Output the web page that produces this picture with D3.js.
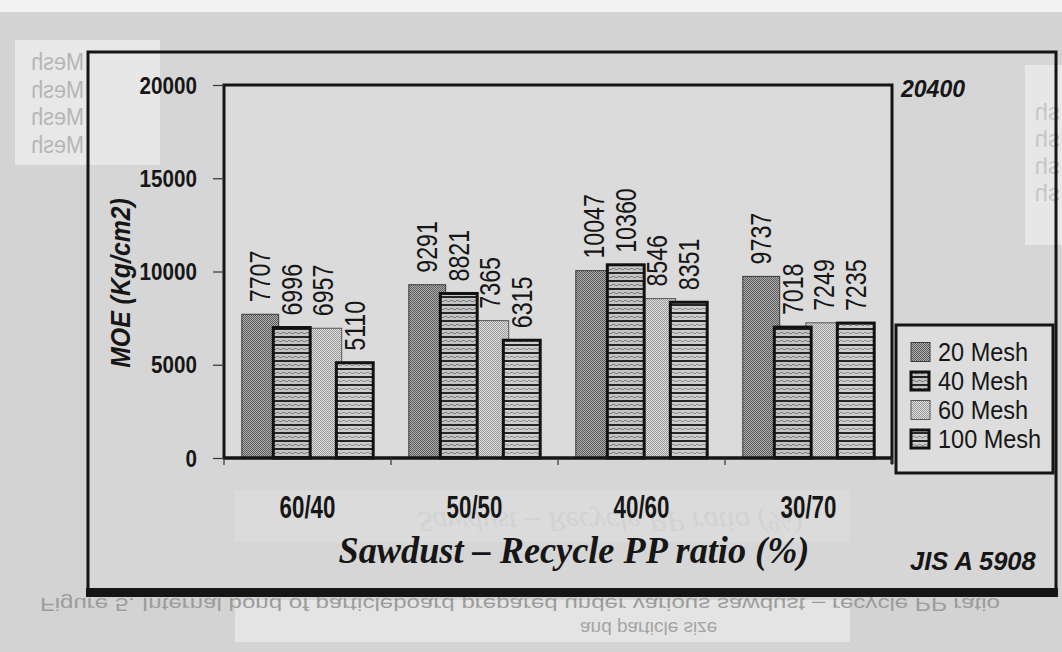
<!DOCTYPE html>
<html><head><meta charset="utf-8">
<script src="https://cdn.jsdelivr.net/npm/d3@7"></script>
<style>
html,body{margin:0;padding:0;background:#d3d3d3;}
svg{display:block;}
text{font-family:"Liberation Sans",Arial,sans-serif;fill:#161616;}
</style></head><body>
<svg id="chart" width="1062" height="652"></svg>
<script>
// ---- data ----
const categories = ["60/40", "50/50", "40/60", "30/70"];
const series = ["20 Mesh", "40 Mesh", "60 Mesh", "100 Mesh"];
const mesh20 = [7707, 9291, 10047, 9737];
const mesh40 = [6996, 8821, 10360, 7018];
const mesh60 = [6957, 7365, 8546, 7249];
const mesh100 = [5110, 6315, 8351, 7235];
const yTicks = [0, 5000, 10000, 15000, 20000];
const yMax = 20000;
const yTitle = "MOE (Kg/cm2)";
const xTitle = "Sawdust – Recycle PP ratio (%)";
const cornerNote = "20400";
const standardNote = "JIS A 5908";
const caption = "Figure 5. Internal bond of particleboard prepared under various sawdust – recycle PP ratio";
const captionTail = "and particle size";

const values = { "20 Mesh": mesh20, "40 Mesh": mesh40, "60 Mesh": mesh60, "100 Mesh": mesh100 };

const svg = d3.select("#chart");
const defs = svg.append("defs");

// ---- fill patterns ----
function checker(id, light, dark) {
  const p = defs.append("pattern").attr("id", id).attr("patternUnits", "userSpaceOnUse")
    .attr("width", 2).attr("height", 2);
  p.append("rect").attr("width", 2).attr("height", 2).attr("fill", light);
  p.append("rect").attr("width", 1).attr("height", 1).attr("fill", dark);
  p.append("rect").attr("x", 1).attr("y", 1).attr("width", 1).attr("height", 1).attr("fill", dark);
}
function stripes(id, base, line, mid) {
  const p = defs.append("pattern").attr("id", id).attr("patternUnits", "userSpaceOnUse")
    .attr("width", 6).attr("height", 8);
  p.append("rect").attr("width", 6).attr("height", 8).attr("fill", base);
  p.append("rect").attr("y", 0).attr("width", 6).attr("height", 2).attr("fill", line);
  p.append("rect").attr("y", 4).attr("width", 3).attr("height", 1).attr("fill", mid);
  p.append("rect").attr("x", 3).attr("y", 5).attr("width", 3).attr("height", 1).attr("fill", mid);
}
checker("pat20", "#b0b0b0", "#5a5a5a");
checker("pat60", "#dedede", "#9a9a9a");
stripes("pat40", "#c4c4c4", "#262626", "#7e7e7e");
stripes("pat100", "#cdcdcd", "#262626", "#8e8e8e");

const style = {
  "20 Mesh": { fill: "url(#pat20)", stroke: "#3a3a3a", sw: 1 },
  "40 Mesh": { fill: "url(#pat40)", stroke: "#111", sw: 3 },
  "60 Mesh": { fill: "url(#pat60)", stroke: "#555", sw: 1 },
  "100 Mesh": { fill: "url(#pat100)", stroke: "#111", sw: 3 }
};

// text helper: condensed glyphs via horizontal scale
function label(g, str, x, y, o = {}) {
  const t = g.append("text")
    .attr("transform", `translate(${x},${y}) rotate(${o.rotate || 0}) scale(${o.sx || 1},${o.sy || 1})`)
    .attr("text-anchor", o.anchor || "start")
    .attr("font-size", o.size || 20)
    .attr("font-weight", o.weight || "normal")
    .attr("font-style", o.italic ? "italic" : "normal")
    .text(str);
  if (o.family) t.style("font-family", o.family);
  if (o.fill) t.style("fill", o.fill);
  if (o.baseline) t.attr("dominant-baseline", o.baseline);
  return t;
}

// ---- faint paper background with show-through from the facing page ----
const bg = svg.append("g");
bg.append("rect").attr("width", 1062).attr("height", 652).attr("fill", "#d3d3d3");
bg.append("rect").attr("width", 1062).attr("height", 12).attr("fill", "#f2f2f2");
bg.append("rect").attr("x", 15).attr("y", 40).attr("width", 145).attr("height", 125).attr("fill", "#e8e8e8");
bg.append("rect").attr("x", 1025).attr("y", 65).attr("width", 37).attr("height", 180).attr("fill", "#e8e8e8");
bg.append("rect").attr("x", 235).attr("y", 600).attr("width", 615).attr("height", 42).attr("fill", "#e4e4e4");
bg.append("rect").attr("x", 235).attr("y", 490).attr("width", 615).attr("height", 52).attr("fill", "#d9d9d9");
[62, 90, 117, 145].forEach(cy => {
  label(bg, "Mesh", 84, cy, { size: 24, sx: -0.9, fill: "#b6b6b6", baseline: "central" });
});
[0, 1, 2, 3].forEach(i => {
  bg.append("text").attr("transform", `translate(1060,${120 + i * 27}) scale(-1,1)`)
    .attr("font-size", 24).style("fill", "#c0c0c0").text("sh");
});
label(bg, xTitle, 610, 512, { anchor: "middle", size: 30, sy: -1, italic: true,
  family: '"Liberation Serif", "Times New Roman", serif', fill: "#cdcdcd" });
bg.append("text").attr("transform", "translate(40,598) scale(1,-1)")
  .attr("font-size", 19).style("fill", "#9c9c9c").text(caption)
  .attr("textLength", 960).attr("lengthAdjust", "spacingAndGlyphs");
bg.append("text").attr("transform", "translate(580,622) scale(1,-1)")
  .attr("font-size", 19).style("fill", "#a4a4a4").text(captionTail);

// ---- chart frame ----
const frame = { left: 88, top: 52, right: 1056, bottom: 590 };
svg.append("rect").attr("x", frame.left).attr("y", frame.top)
  .attr("width", frame.right - frame.left).attr("height", frame.bottom - frame.top)
  .attr("fill", "rgba(230,230,230,0.2)").attr("stroke", "#151515").attr("stroke-width", 3);
svg.append("rect").attr("x", frame.left - 2).attr("y", frame.bottom - 2)
  .attr("width", frame.right - frame.left + 4).attr("height", 9).attr("fill", "#151515");

// ---- scales ----
const plot = { left: 224, right: 892, top: 85, bottom: 458 };
const x0 = d3.scaleBand().domain(categories).range([plot.left, plot.right]);
const x1 = d3.scaleBand().domain(series).range([0, x0.bandwidth()]).paddingOuter(0.65);
const barW = x1.bandwidth() * 1.17;
const y = d3.scaleLinear().domain([0, yMax]).range([plot.bottom, plot.top]);

svg.append("rect").attr("x", plot.left).attr("y", plot.top)
  .attr("width", plot.right - plot.left).attr("height", plot.bottom - plot.top)
  .attr("fill", "rgba(255,255,255,0.12)");

// ---- bars (dotted series first, striped ones overlap them) ----
const drawOrder = ["20 Mesh", "60 Mesh", "40 Mesh", "100 Mesh"];
const bars = svg.append("g");
const barData = [];
drawOrder.forEach(s => {
  categories.forEach((c, i) => {
    barData.push({ s, c, v: values[s][i] });
  });
});
bars.selectAll("rect").data(barData).join("rect")
  .attr("x", d => x0(d.c) + x1(d.s) + x1.bandwidth() / 2 - barW / 2)
  .attr("y", d => y(d.v))
  .attr("width", barW)
  .attr("height", d => y(0) - y(d.v))
  .attr("fill", d => style[d.s].fill)
  .attr("stroke", d => style[d.s].stroke)
  .attr("stroke-width", d => style[d.s].sw);

// ---- value labels ----
const vl = svg.append("g");
barData.forEach(d => {
  const cx = x0(d.c) + x1(d.s) + x1.bandwidth() / 2;
  label(vl, String(d.v), cx, y(d.v) - 12, { rotate: -90, sx: 0.8, size: 29, baseline: "central" });
});

// ---- plot border and axes ----
svg.append("path")
  .attr("d", `M${plot.left},${plot.bottom}V${plot.top}H${plot.right}V${plot.bottom + 6}`)
  .attr("fill", "none").attr("stroke", "#151515").attr("stroke-width", 3);
svg.append("line").attr("x1", plot.left - 1).attr("x2", plot.right + 1)
  .attr("y1", plot.bottom).attr("y2", plot.bottom)
  .attr("stroke", "#151515").attr("stroke-width", 3.5);

const yAxis = svg.append("g").attr("transform", `translate(${plot.left},0)`)
  .call(d3.axisLeft(y).tickValues(yTicks).tickSize(11).tickFormat(d3.format("d")));
yAxis.select(".domain").remove();
yAxis.selectAll(".tick line").attr("stroke", "#333").attr("stroke-width", 1.2);
yAxis.selectAll(".tick text")
  .attr("x", null).attr("dy", null)
  .attr("transform", "translate(-27,0) scale(0.86,1)")
  .attr("dominant-baseline", "central")
  .attr("font-size", 24).attr("font-weight", "bold")
  .style("font-family", '"Liberation Sans", Arial, sans-serif').style("fill", "#161616");

// category boundary ticks
const bounds = categories.map(c => x0(c)).concat([plot.right]);
svg.append("g").selectAll("line").data(bounds).join("line")
  .attr("x1", d => d).attr("x2", d => d)
  .attr("y1", plot.bottom).attr("y2", plot.bottom + 7)
  .attr("stroke", "#333").attr("stroke-width", 1.2);

// category labels
categories.forEach(c => {
  label(svg, c, x0(c) + x0.bandwidth() / 2, 518, { anchor: "middle", size: 31, sx: 0.72, weight: "bold" });
});

// titles
label(svg, yTitle, 130, 283, { rotate: -90, anchor: "middle", size: 27, sx: 0.92, weight: "bold", italic: true });
label(svg, xTitle, 574, 563, { anchor: "middle", size: 37, sx: 0.98, weight: "bold", italic: true,
  family: '"Liberation Serif", "Times New Roman", serif' });
label(svg, cornerNote, 901, 97, { size: 24, sx: 0.96, weight: "bold", italic: true });
label(svg, standardNote, 910, 570, { size: 25, sx: 1.02, weight: "bold", italic: true });

// ---- legend ----
const lg = svg.append("g");
lg.append("rect").attr("x", 896).attr("y", 325).attr("width", 157).attr("height", 148)
  .attr("fill", "rgba(235,235,235,0.35)").attr("stroke", "#151515").attr("stroke-width", 3);
series.forEach((s, i) => {
  const cy = 352 + i * 29;
  const st = style[s];
  const sz = st.sw > 1 ? 18 : 19;
  lg.append("rect").attr("x", 911).attr("y", cy - sz / 2).attr("width", sz).attr("height", sz)
    .attr("fill", st.fill).attr("stroke", st.stroke).attr("stroke-width", st.sw);
  label(lg, s, 938, cy, { size: 25, sx: 0.94, baseline: "central" });
});
</script>
</body></html>
